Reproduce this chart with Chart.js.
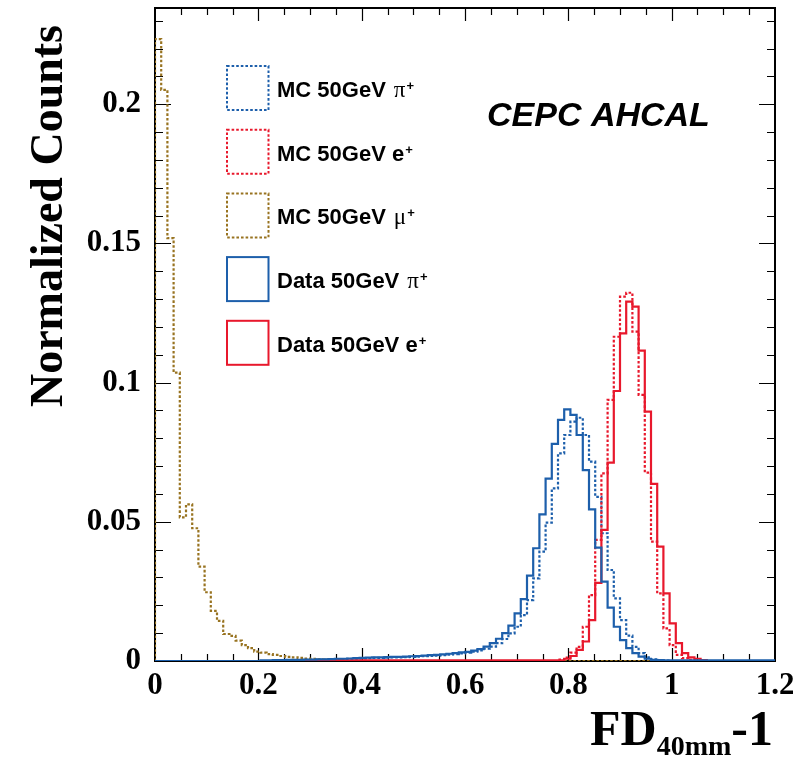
<!DOCTYPE html>
<html>
<head>
<meta charset="utf-8">
<style>
  html, body { margin: 0; padding: 0; background: #fff; }
  canvas { display: block; }
</style>
<script src="https://cdn.jsdelivr.net/npm/chart.js@4"></script>
</head>
<body>
<canvas id="fd-chart" width="793" height="759"></canvas>
<script>
// FD(40mm)-1 distributions, 100 bins of 0.012 over [0, 1.2]
const BIN_WIDTH = 0.012
const N_BINS = 100
const X_MAX = 1.2
const Y_MAX = 0.2346

// each series stores bins from its start index on, the rest are empty
const mcPiStart = 20
const mcPi = [
  0.0002, 0.0003, 0.0003, 0.0003, 0.0004, 0.0004, 0.0005, 0.0005,
  0.0006, 0.0006, 0.0007, 0.0008, 0.0008, 0.0009,
  0.0010, 0.0011, 0.0011, 0.0012, 0.0013, 0.0013,
  0.0014, 0.0015, 0.0016, 0.0017, 0.0018, 0.0019, 0.0021, 0.0023, 0.0025, 0.0027,
  0.0030, 0.0034, 0.0038, 0.0044, 0.0052, 0.0064, 0.0079, 0.0099, 0.0123, 0.0165,
  0.0219, 0.0297, 0.0393, 0.0497, 0.0620, 0.0746, 0.0812, 0.0860, 0.0874, 0.0812,
  0.0716, 0.0590, 0.0459, 0.0327, 0.0225, 0.0147, 0.0091, 0.0051, 0.0028, 0.0013,
  0.0006, 0.0003, 0.0001
]

const mcEStart = 65
const mcE = [
  0.0005, 0.0012, 0.0030, 0.0051, 0.0123,
  0.0237, 0.0435, 0.0674, 0.0938, 0.1165, 0.1309, 0.1323, 0.1183, 0.0956, 0.0677,
  0.0429, 0.0243, 0.0117, 0.0057, 0.0022, 0.0010, 0.0004
]

const mcMuStart = 0
const mcMu = [
  0.2234, 0.2052, 0.1519, 0.1036, 0.0516, 0.0563, 0.0477, 0.0339, 0.0247, 0.0180,
  0.0144, 0.0097, 0.0090, 0.0073, 0.0057, 0.0046, 0.0034, 0.0030, 0.0025, 0.0022,
  0.0018, 0.0015, 0.0013, 0.0011, 0.0009, 0.0008, 0.0006, 0.0005, 0.0003, 0.0002
]

const dataPiStart = 17
const dataPi = [
  0.0002, 0.0002, 0.0003,
  0.0003, 0.0004, 0.0004, 0.0004, 0.0005, 0.0005, 0.0006, 0.0006,
  0.0007, 0.0008, 0.0008, 0.0009, 0.0010, 0.0011,
  0.0012, 0.0013, 0.0013, 0.0014, 0.0015, 0.0015,
  0.0016, 0.0017, 0.0018, 0.0019, 0.0021, 0.0022, 0.0024, 0.0026, 0.0028, 0.0031,
  0.0033, 0.0037, 0.0043, 0.0052, 0.0064, 0.0080, 0.0100, 0.0127, 0.0171, 0.0222,
  0.0307, 0.0405, 0.0527, 0.0655, 0.0780, 0.0866, 0.0904, 0.0884, 0.0812, 0.0686,
  0.0545, 0.0407, 0.0285, 0.0192, 0.0123, 0.0075, 0.0046, 0.0028, 0.0016, 0.0008,
  0.0004, 0.0003, 0.0002, 0.0002, 0.0002, 0.0002, 0.0002, 0.0002, 0.0002, 0.0002,
  0.0002, 0.0002, 0.0002, 0.0002, 0.0002, 0.0002, 0.0002, 0.0002, 0.0002, 0.0002
]

const dataEStart = 28
const dataE = [
  0.0002, 0.0002, 0.0002, 0.0002, 0.0002, 0.0002, 0.0002, 0.0002, 0.0002, 0.0002,
  0.0002, 0.0002, 0.0002, 0.0002, 0.0002, 0.0002, 0.0002, 0.0002, 0.0002, 0.0002,
  0.0002, 0.0002, 0.0002, 0.0002, 0.0002, 0.0002, 0.0002, 0.0002, 0.0002, 0.0002,
  0.0002, 0.0002, 0.0002, 0.0002, 0.0002, 0.0002, 0.0002, 0.0002,
  0.0008, 0.0018, 0.0040, 0.0070,
  0.0147, 0.0281, 0.0471, 0.0713, 0.0970, 0.1177, 0.1291, 0.1273, 0.1115, 0.0896,
  0.0636, 0.0411, 0.0243, 0.0135, 0.0064, 0.0028, 0.0013, 0.0008, 0.0003
]

// legend text, in legend order
const legendNames = ['MC 50GeV', 'MC 50GeV', 'MC 50GeV', 'Data 50GeV', 'Data 50GeV']
const legendParticles = ['π', 'e', 'μ', 'π', 'e']

const BLUE = '#1d5fab'
const RED = '#e8182c'
const BROWN = '#987320'
const DOTS = [2.6, 2]

const SERIF = '"Liberation Serif", "Times New Roman", serif'
const SANS = '"Liberation Sans", Arial, sans-serif'

// turn a bin list into step points: left edge of every bin, closed at both ends
function toSteps(start, values) {
  const pts = [{ x: 0, y: 0 }]
  for (let k = 0; k < N_BINS; k++) {
    const i = k - start
    const v = i >= 0 && i < values.length ? values[i] : 0
    pts.push({ x: +(k * BIN_WIDTH).toFixed(3), y: v })
  }
  pts.push({ x: X_MAX, y: 0 })
  return pts
}

function hist(label, start, values, color, dashed, order) {
  return {
    label,
    data: toSteps(start, values),
    borderColor: color,
    borderWidth: 2.2,
    borderDash: dashed ? DOTS : [],
    stepped: 'before',
    pointRadius: 0,
    fill: false,
    order
  }
}

const isMultiple = (v, step) => Math.abs(v / step - Math.round(v / step)) < 1e-6

// fixed axis boxes, no extra room for overhanging tick labels
function fixBox(prop, size) {
  return s => {
    s[prop] = size
    s.paddingTop = s.paddingBottom = s.paddingLeft = s.paddingRight = 0
  }
}

// ROOT-style frame with ticks on all four sides, pointing inwards
const frameTicks = {
  id: 'frameTicks',
  beforeDatasetsDraw(chart) {
    const { ctx, chartArea: a, scales: { x, y } } = chart
    ctx.save()
    ctx.strokeStyle = '#000'
    ctx.lineWidth = 1.2
    ctx.beginPath()
    x.ticks.forEach(t => {
      if (t.value <= 0 || t.value >= X_MAX) return
      const px = Math.round(x.getPixelForValue(t.value)) + 0.5
      const len = isMultiple(t.value, 0.2) ? 13 : 7
      ctx.moveTo(px, a.bottom); ctx.lineTo(px, a.bottom - len)
      ctx.moveTo(px, a.top); ctx.lineTo(px, a.top + len)
    })
    y.ticks.forEach(t => {
      if (t.value <= 0) return
      const py = Math.round(y.getPixelForValue(t.value)) + 0.5
      const len = isMultiple(t.value, 0.05) ? 16 : 8
      ctx.moveTo(a.left, py); ctx.lineTo(a.left + len, py)
      ctx.moveTo(a.right, py); ctx.lineTo(a.right - len, py)
    })
    ctx.stroke()
    ctx.lineWidth = 2
    ctx.strokeRect(a.left, a.top, a.right - a.left, a.bottom - a.top)
    ctx.restore()
  }
}

// legend boxes, experiment tag and axis titles
const annotations = {
  id: 'annotations',
  afterDraw(chart) {
    const { ctx } = chart
    const entries = chart.data.datasets
    ctx.save()
    ctx.fillStyle = '#000'
    ctx.textBaseline = 'alphabetic'

    entries.forEach((ds, i) => {
      const top = 66 + i * 63.7
      ctx.strokeStyle = ds.borderColor
      ctx.lineWidth = 2
      ctx.setLineDash(ds.borderDash)
      ctx.strokeRect(227, top, 41.5, 44)
      ctx.setLineDash([])

      const base = top + 31
      let tx = 277
      ctx.font = 'bold 22px ' + SANS
      ctx.fillText(legendNames[i], tx, base)
      tx += ctx.measureText(legendNames[i]).width
      const p = legendParticles[i]
      if (p === 'e') {
        ctx.fillText(' e', tx, base)
        tx += ctx.measureText(' e').width + 1
      } else {
        tx += 8
        ctx.font = '23px ' + SERIF
        ctx.fillText(p, tx, base)
        tx += ctx.measureText(p).width + 1
      }
      ctx.font = 'bold 13px ' + SANS
      ctx.fillText('+', tx, base - 7)
    })

    ctx.font = 'italic bold 34px ' + SANS
    ctx.fillText('CEPC AHCAL', 487, 126)

    // x title with subscript
    let x = 590
    ctx.font = 'bold 50px ' + SERIF
    ctx.fillText('FD', x, 745)
    x += ctx.measureText('FD').width
    ctx.font = 'bold 28px ' + SERIF
    ctx.fillText('40mm', x, 755)
    x += ctx.measureText('40mm').width
    ctx.font = 'bold 50px ' + SERIF
    ctx.fillText('-1', x, 745)

    // y title, rotated
    ctx.translate(62, 216)
    ctx.rotate(-Math.PI / 2)
    ctx.textAlign = 'center'
    ctx.font = 'bold 46px ' + SERIF
    ctx.fillText('Normalized Counts', 0, 0)
    ctx.restore()
  }
}

const tickFont = { family: SERIF, size: 31, weight: 'bold' }
const fmt = v => String(Math.round(v * 100) / 100)

new Chart(document.getElementById('fd-chart'), {
  type: 'line',
  data: {
    datasets: [
      hist('MC 50GeV π+', mcPiStart, mcPi, BLUE, true, 4),
      hist('MC 50GeV e+', mcEStart, mcE, RED, true, 3),
      hist('MC 50GeV μ+', mcMuStart, mcMu, BROWN, true, 2),
      hist('Data 50GeV π+', dataPiStart, dataPi, BLUE, false, 0),
      hist('Data 50GeV e+', dataEStart, dataE, RED, false, 1)
    ]
  },
  options: {
    responsive: false,
    devicePixelRatio: 1,
    animation: false,
    events: [],
    layout: { padding: { top: 8, right: 18, left: 0, bottom: 0 } },
    scales: {
      x: {
        type: 'linear',
        min: 0,
        max: X_MAX,
        grid: { display: false, drawTicks: false },
        border: { display: false },
        ticks: {
          stepSize: 0.05,
          autoSkip: false,
          maxRotation: 0,
          includeBounds: false,
          padding: 6,
          color: '#000',
          font: tickFont,
          callback: v => isMultiple(v, 0.2) ? fmt(v) : ''
        },
        afterFit: fixBox('height', 98)
      },
      y: {
        type: 'linear',
        min: 0,
        max: Y_MAX,
        grid: { display: false, drawTicks: false },
        border: { display: false },
        ticks: {
          stepSize: 0.01,
          autoSkip: false,
          includeBounds: false,
          padding: 14,
          color: '#000',
          font: tickFont,
          callback: v => isMultiple(v, 0.05) ? fmt(v) : ''
        },
        afterFit: fixBox('width', 155)
      }
    },
    plugins: {
      legend: { display: false },
      tooltip: { enabled: false }
    }
  },
  plugins: [frameTicks, annotations]
})
</script>
</body>
</html>
